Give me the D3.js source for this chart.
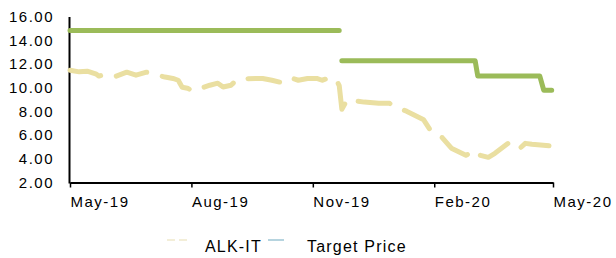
<!DOCTYPE html>
<html>
<head>
<meta charset="utf-8">
<script src="https://cdn.jsdelivr.net/npm/d3@7"></script>
<style>
  body { margin: 0; background: #fff; }
  svg text { font-family: "Liberation Sans", Arial, sans-serif; font-size: 15px; fill: #000; letter-spacing: 1.5px; }
  #legend text { font-size: 16px; letter-spacing: 1.2px; }
</style>
</head>
<body>
<div id="chart"></div>
<script>
// share price (ALK-IT)
const priceDates = [
  "2019-05-01", "2019-05-08", "2019-05-14", "2019-05-21", "2019-05-23", "2019-05-28",
  "2019-06-05", "2019-06-13", "2019-06-20", "2019-06-28", "2019-07-12",
  "2019-07-18", "2019-07-22", "2019-07-25", "2019-07-29", "2019-08-02",
  "2019-08-15", "2019-08-21", "2019-08-25", "2019-08-31", "2019-09-04",
  "2019-09-09", "2019-09-24", "2019-10-01", "2019-10-07", "2019-10-14",
  "2019-10-21", "2019-10-28", "2019-11-04", "2019-11-08", "2019-11-15",
  "2019-11-19", "2019-11-21", "2019-11-23", "2019-11-27", "2019-12-05",
  "2019-12-10", "2019-12-21", "2019-12-29", "2020-01-05", "2020-01-11",
  "2020-01-24", "2020-01-30", "2020-02-07", "2020-02-14", "2020-02-25",
  "2020-03-03", "2020-03-07", "2020-03-13", "2020-03-18", "2020-03-28",
  "2020-04-03", "2020-04-06", "2020-04-10", "2020-04-15", "2020-04-28"
];
const priceValues = [
  11.5, 11.36, 11.42, 11.16, 11.0, 11.16,
  11.0, 11.33, 11.08, 11.33, 10.92,
  10.8, 10.65, 10.05, 9.98, 9.74,
  10.23, 10.4, 10.08, 10.23, 10.65,
  10.78, 10.8, 10.65, 10.49, 10.9,
  10.65, 10.8, 10.8, 10.65, 10.9,
  10.65, 10.2, 8.2, 9.0, 8.87,
  8.8, 8.7, 8.7, 8.28, 8.03,
  7.3, 6.25, 5.8, 4.9, 4.3,
  4.72, 4.3, 4.13, 4.47, 5.31,
  5.31, 4.9, 5.31, 5.23, 5.1
];

// target price, null = no value that day
const targetDates = [
  "2019-05-01", "2019-11-21", "2019-11-22", "2019-11-23", "2020-03-03",
  "2020-03-05", "2020-04-21", "2020-04-24", "2020-04-30"
];
const targetValues = [14.85, 14.85, null, 12.3, 12.3, 11.0, 11.0, 9.8, 9.8];

const yTicks = [2, 4, 6, 8, 10, 12, 14, 16];
const xTicks = ["2019-05-01", "2019-08-01", "2019-11-01", "2020-02-01", "2020-05-01"];
const seriesNames = ["ALK-IT", "Target Price"];

const parse = d3.timeParse("%Y-%m-%d");
const price = priceDates.map((d, i) => ({ date: parse(d), value: priceValues[i] }));
const target = targetDates.map((d, i) => ({ date: parse(d), value: targetValues[i] }));

const [W, H] = [616, 258];
const svg = d3.select("#chart").append("svg").attr("width", W).attr("height", H);

const x = d3.scaleTime()
  .domain([parse(xTicks[0]), parse(xTicks[xTicks.length - 1])])
  .range([70, 553]);
const y = d3.scaleLinear().domain([2, 16]).range([182.5, 17]);

// y axis: line and labels only
svg.append("line")
  .attr("x1", 69.5).attr("x2", 69.5)
  .attr("y1", y(16)).attr("y2", y(2) + 1)
  .attr("stroke", "#000").attr("stroke-width", 2);
svg.append("g")
  .selectAll("text")
  .data(yTicks)
  .enter()
  .append("text")
  .attr("x", 54)
  .attr("y", (d) => y(d) + 5)
  .attr("text-anchor", "end")
  .text((d) => d.toFixed(2));

// x axis
const xAxis = d3.axisBottom(x)
  .tickValues(xTicks.map(parse))
  .tickFormat(d3.timeFormat("%b-%y"))
  .tickSize(5)
  .tickSizeOuter(0);
const gx = svg.append("g")
  .attr("transform", `translate(0, ${y(2)})`)
  .call(xAxis);
gx.attr("font-size", null).attr("font-family", null);
gx.select(".domain").attr("stroke", "#000").attr("stroke-width", 2);
gx.selectAll(".tick line").attr("stroke", "#000").attr("stroke-width", 1.5);
gx.selectAll(".tick text")
  .attr("text-anchor", "start")
  .attr("x", 0)
  .attr("y", 14)
  .attr("dy", "0.71em");

// series
const line = d3.line()
  .defined((d) => d.value !== null)
  .x((d) => x(d.date))
  .y((d) => y(d.value));

svg.append("path")
  .datum(price)
  .attr("fill", "none")
  .attr("stroke", "#eadfa1")
  .attr("stroke-width", 5)
  .attr("stroke-linecap", "round")
  .attr("stroke-linejoin", "round")
  .attr("stroke-dasharray", "32,16")
  .attr("d", line);

svg.append("path")
  .datum(target)
  .attr("fill", "none")
  .attr("stroke", "#9bbb59")
  .attr("stroke-width", 5)
  .attr("stroke-linecap", "round")
  .attr("stroke-linejoin", "round")
  .attr("d", line);

// legend
const legend = svg.append("g").attr("id", "legend");
legend.append("line")
  .attr("x1", 167).attr("x2", 187).attr("y1", 240).attr("y2", 240)
  .attr("stroke", "#f3eed8").attr("stroke-width", 2)
  .attr("stroke-dasharray", "8,4");
legend.append("text").attr("x", 205).attr("y", 251.5).text(seriesNames[0]);
legend.append("line")
  .attr("x1", 268).attr("x2", 284).attr("y1", 240).attr("y2", 240)
  .attr("stroke", "#b6d4df").attr("stroke-width", 2);
legend.append("text").attr("x", 307).attr("y", 251.5).text(seriesNames[1]);
</script>
</body>
</html>
